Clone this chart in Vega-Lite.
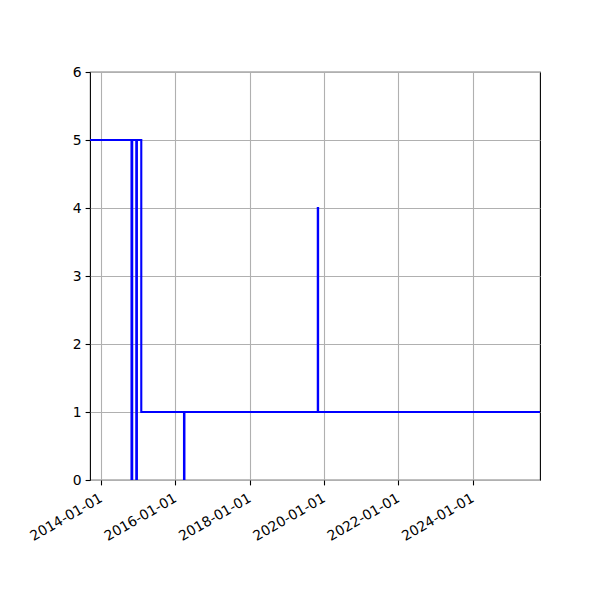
{
  "$schema": "https://vega.github.io/schema/vega-lite/v6.json",
  "autosize": {"type": "none"},
  "padding": {"left": 90, "top": 72, "right": 60, "bottom": 120},
  "width": 450,
  "height": 408,
  "background": "white",
  "config": {
    "view": {"stroke": "black", "strokeWidth": 1.1},
    "font": "DejaVu Sans"
  },
  "data": {
    "values": [
      {"date": "2013-09-15", "value": 5},
      {"date": "2014-10-28", "value": 0},
      {"date": "2014-11-04", "value": 5},
      {"date": "2014-12-14", "value": 0},
      {"date": "2014-12-20", "value": 5},
      {"date": "2015-02-01", "value": 1},
      {"date": "2016-03-27", "value": 0},
      {"date": "2016-03-31", "value": 1},
      {"date": "2019-11-02", "value": 4},
      {"date": "2019-11-05", "value": 1},
      {"date": "2025-10-25", "value": 1}
    ]
  },
  "mark": {"type": "line", "interpolate": "step-after", "color": "#0000ff", "strokeWidth": 2.1, "clip": true},
  "encoding": {
    "x": {
      "field": "date",
      "type": "temporal",
      "scale": {"type": "utc", "nice": false, "domain": [{"year": 2013, "month": 9, "date": 15, "utc": true}, {"year": 2025, "month": 10, "date": 25, "utc": true}]},
      "axis": {
        "title": null,
        "values": [
          {"year": 2014, "month": 1, "date": 1, "utc": true},
          {"year": 2016, "month": 1, "date": 1, "utc": true},
          {"year": 2018, "month": 1, "date": 1, "utc": true},
          {"year": 2020, "month": 1, "date": 1, "utc": true},
          {"year": 2022, "month": 1, "date": 1, "utc": true},
          {"year": 2024, "month": 1, "date": 1, "utc": true}
        ],
        "labelExpr": "utcFormat(datum.value, '%Y-%m-%d')",
        "labelAngle": -30,
        "labelAlign": "right",
        "labelBaseline": "middle",
        "labelFontSize": 13.9,
        "labelColor": "black",
        "labelPadding": 12,
        "labelDx": -2,
        "labelFlush": false,
        "labelOverlap": false,
        "tickColor": "black",
        "tickSize": 4.9,
        "tickWidth": 1.1,
        "domain": false,
        "grid": true,
        "gridColor": "#b0b0b0",
        "gridWidth": 1.1
      }
    },
    "y": {
      "field": "value",
      "type": "quantitative",
      "scale": {"domain": [0, 6], "nice": false, "zero": true},
      "axis": {
        "title": null,
        "values": [0, 1, 2, 3, 4, 5, 6],
        "labelFontSize": 13.9,
        "labelColor": "black",
        "labelPadding": 4,
        "tickColor": "black",
        "tickSize": 4.9,
        "tickWidth": 1.1,
        "domain": false,
        "grid": true,
        "gridColor": "#b0b0b0",
        "gridWidth": 1.1
      }
    }
  }
}
